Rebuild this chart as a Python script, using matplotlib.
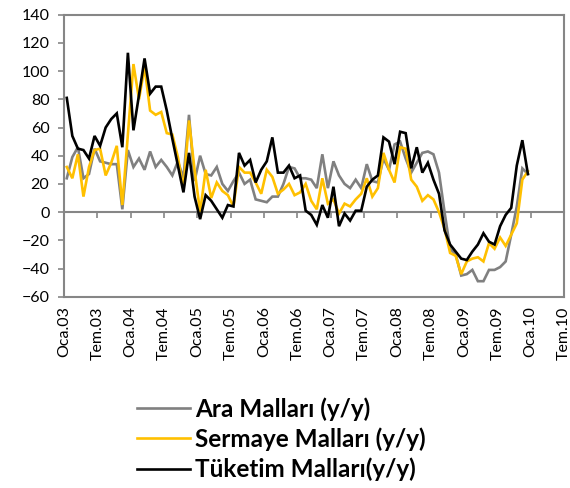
import numpy as np
import matplotlib
matplotlib.use("Agg")
import matplotlib.pyplot as plt

plt.rcParams['font.family'] = ['Lato', 'DejaVu Sans']

# aylık yıllık değişim (%), Ocak 2003 - Aralık 2009
ara_mallari = [24, 39, 46, 24, 27, 45, 36, 35, 34, 34, 2, 44,
               32, 38, 30, 43, 32, 37, 32, 26, 36, 24, 69, 22,
               40, 27, 26, 32, 20, 15, 22,
               28, 20, 23, 9, 8, 7, 11, 11, 20, 32, 31, 24, 24, 23, 17, 41, 17,
               36, 26, 20, 17, 23, 17, 34, 22, 21, 38, 30, 48,
               50, 38, 28, 35, 42, 43, 41, 28, 0, -26, -30, -45,
               -44, -41, -49, -49, -41, -41, -39, -35, -16, 4, 31, 27]
sermaye_mallari = [32, 24, 41, 11, 32, 44, 45, 26, 35, 47, 5, 55,
                   105, 80, 103, 72, 69, 71, 56, 55, 39, 16, 65, 30,
                   0, 30, 10, 21, 15, 12, 4,
                   32, 28, 28, 21, 13, 30, 25, 13, 16, 20, 12, 14, 20, 8, 2, 24, 6,
                   9, -1, 6, 4, 9, 13, 24, 11, 17, 42, 30, 21,
                   46, 45, 23, 18, 8, 12, 9, 0, -12, -29, -31, -44,
                   -35, -33, -32, -35, -22, -26, -18, -24, -16, -8, 23, 29]
tuketim_mallari = [81, 54, 45, 44, 38, 54, 47, 60, 66, 70, 46, 113,
                   58, 83, 109, 84, 89, 89, 72, 52, 33, 14, 42, 11,
                   -5, 12, 8, 2, -4, 5, 4,
                   42, 33, 37, 21, 30, 36, 53, 28, 28, 33, 24, 26, 1, -2, -9, 5, -4,
                   18, -10, -1, -6, 1, 1, 18, 23, 26, 53, 50, 34,
                   57, 56, 31, 46, 28, 35, 23, 13, -13, -23, -28, -33,
                   -34, -28, -23, -15, -21, -23, -10, -2, 3, 33, 51, 27]

tick_labels = ['Oca.03', 'Tem.03', 'Oca.04', 'Tem.04', 'Oca.05', 'Tem.05',
               'Oca.06', 'Tem.06', 'Oca.07', 'Tem.07', 'Oca.08', 'Tem.08',
               'Oca.09', 'Tem.09', 'Oca.10', 'Tem.10']

series = [
    ('Ara Malları (y/y)', ara_mallari, '#808080'),
    ('Sermaye Malları (y/y)', sermaye_mallari, '#FFC000'),
    ('Tüketim Malları(y/y)', tuketim_mallari, '#000000'),
]

axis_col = '#868686'
W, H = 570, 488

fig = plt.figure(figsize=(W / 100, H / 100), dpi=100)
ax = fig.add_axes([64 / W, 1 - 296.7 / H, 500 / W, 282 / H])

# points sit in the middle of each month
month_pos = np.arange(len(ara_mallari)) + 0.5
handles = []
for label, values, color in series:
    h, = ax.plot(month_pos, values, color=color, lw=1.9, label=label,
                 solid_joinstyle='miter')
    handles.append(h)

ax.set_xlim(0, 6 * (len(tick_labels) - 1))
ax.set_ylim(-60, 140)
ax.set_yticks(np.arange(-60, 141, 20))

for side in ['top', 'right', 'left', 'bottom']:
    ax.spines[side].set_color(axis_col)
    ax.spines[side].set_linewidth(1.5)

# category axis crosses at zero, labels stay at the bottom edge
ax.spines['bottom'].set_position(('data', 0))
ax.spines['bottom'].set_zorder(1)
ax.set_xticks(np.arange(0, 6 * len(tick_labels), 6))
ax.tick_params(axis='x', direction='out', length=4.5, width=1.2,
               color=axis_col, labelbottom=False)
ax.tick_params(axis='y', direction='out', length=4.5, width=1.2,
               color=axis_col, labelsize=11.5, pad=6)

sec = ax.secondary_xaxis(0.0)
sec.set_xticks(np.arange(0, 6 * len(tick_labels), 6))
sec.set_xticklabels(tick_labels, rotation=90, fontsize=11.5)
sec.tick_params(axis='x', length=0, pad=7)
sec.spines['bottom'].set_color(axis_col)
sec.spines['bottom'].set_linewidth(1.5)

fig.legend(handles=handles, loc='upper left', bbox_to_anchor=(137 / W, 1 - 397 / H),
           frameon=False, prop={'weight': 'bold', 'size': 17.5},
           handlelength=2.2, handletextpad=0.2, labelspacing=0.28,
           borderpad=0, borderaxespad=0)

fig.savefig('out.png', dpi=100)
